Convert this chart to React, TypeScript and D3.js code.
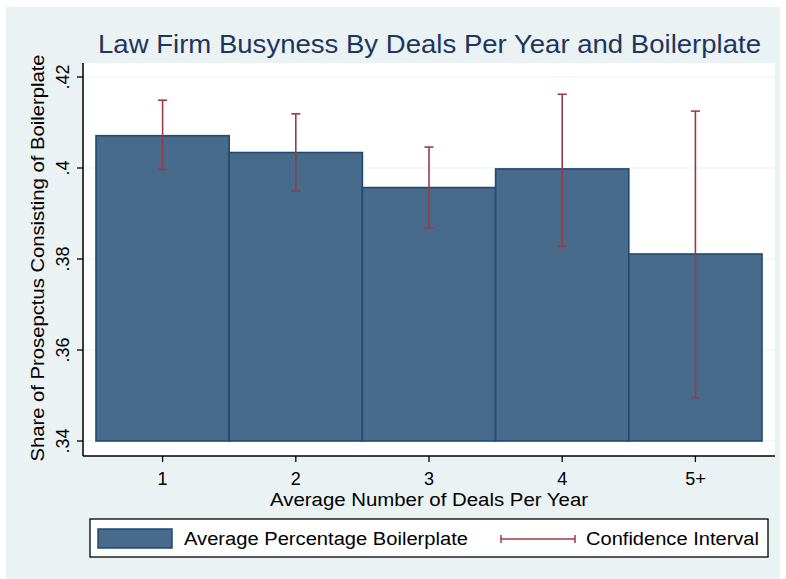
import React from "react";
import * as d3 from "d3";

// values
const categories = ["1", "2", "3", "4", "5+"];
const meanShare = [0.4071, 0.4034, 0.3957, 0.3998, 0.3811];
const ciLower = [0.3997, 0.3949, 0.3868, 0.3828, 0.3495];
const ciUpper = [0.4149, 0.4119, 0.4046, 0.4162, 0.4125];
const yTicks = [0.34, 0.36, 0.38, 0.4, 0.42];
const yTickLabels = [".34", ".36", ".38", ".4", ".42"];

const FONT = "'Liberation Sans', Arial, sans-serif";
const BG = "#eaf2f3";
const BAR_FILL = "#486a8b";
const BAR_LINE = "#1f4a72";
const CI_COLOR = "#9b3a45";

const App = () => {
  const width = 786,
    height = 579;
  const plot = { left: 84, right: 775, top: 63, bottom: 456 };

  const x = d3.scaleBand().domain(categories).range([96, 762]).padding(0);
  const y = d3.scaleLinear().domain([0.34, 0.42]).range([441, 77]);

  const rows = categories.map((c, i) => ({
    c,
    mean: meanShare[i],
    lo: ciLower[i],
    hi: ciUpper[i],
  }));

  const cap = 4.5;
  // Stata's text renders a bit wider than Liberation Sans, so stretch it
  const wide = { lengthAdjust: "spacingAndGlyphs" as const };

  return (
    <div style={{ position: "absolute", left: 0, top: 0 }}>
      <svg width={width} height={height} style={{ display: "block" }}>
        <rect x={0} y={0} width={width} height={height} fill="#ffffff" />
        <rect x={6} y={7} width={774} height={height} fill={BG} />
        <rect
          x={plot.left}
          y={plot.top}
          width={plot.right - plot.left}
          height={plot.bottom - plot.top}
          fill="#ffffff"
        />

        {/* title */}
        <text
          x={(plot.left + plot.right) / 2}
          y={53}
          textAnchor="middle"
          fontFamily={FONT}
          fontSize={25.5}
          fill="#1e3560"
          textLength={663}
          {...wide}
        >
          Law Firm Busyness By Deals Per Year and Boilerplate
        </text>

        {/* gridlines */}
        {yTicks.map((t) => (
          <line
            key={"g" + t}
            x1={plot.left}
            x2={plot.right}
            y1={y(t)}
            y2={y(t)}
            stroke={BG}
            strokeWidth={1.2}
          />
        ))}

        {/* bars */}
        {rows.map((d) => (
          <rect
            key={"b" + d.c}
            x={x(d.c)}
            y={y(d.mean)}
            width={x.bandwidth()}
            height={y(0.34) - y(d.mean)}
            fill={BAR_FILL}
            stroke={BAR_LINE}
            strokeWidth={1.6}
          />
        ))}

        {/* confidence intervals */}
        {rows.map((d) => {
          const cx = x(d.c) + x.bandwidth() / 2;
          return (
            <g key={"ci" + d.c} stroke={CI_COLOR} strokeWidth={1.6}>
              <line x1={cx} x2={cx} y1={y(d.hi)} y2={y(d.lo)} />
              <line x1={cx - cap} x2={cx + cap} y1={y(d.hi)} y2={y(d.hi)} />
              <line x1={cx - cap} x2={cx + cap} y1={y(d.lo)} y2={y(d.lo)} />
            </g>
          );
        })}

        {/* y axis */}
        <line x1={83} x2={83} y1={plot.top} y2={plot.bottom} stroke="#000" strokeWidth={1.5} />
        {yTicks.map((t, i) => (
          <g key={"yt" + t}>
            <line x1={77} x2={83} y1={y(t)} y2={y(t)} stroke="#000" strokeWidth={1.3} />
            <text
              transform={`translate(69,${y(t)}) rotate(-90)`}
              textAnchor="middle"
              fontFamily={FONT}
              fontSize={18}
              fill="#000"
            >
              {yTickLabels[i]}
            </text>
          </g>
        ))}
        <text
          transform={`translate(44,258) rotate(-90)`}
          textAnchor="middle"
          fontFamily={FONT}
          fontSize={17.5}
          fill="#000"
          textLength={407}
          {...wide}
        >
          Share of Prosepctus Consisting of Boilerplate
        </text>

        {/* x axis */}
        <line x1={83} x2={plot.right} y1={456} y2={456} stroke="#000" strokeWidth={1.5} />
        {categories.map((c) => {
          const cx = x(c) + x.bandwidth() / 2;
          return (
            <g key={"xt" + c}>
              <line x1={cx} x2={cx} y1={456} y2={462} stroke="#000" strokeWidth={1.3} />
              <text x={cx} y={485} textAnchor="middle" fontFamily={FONT} fontSize={18} fill="#000">
                {c}
              </text>
            </g>
          );
        })}
        <text
          x={429}
          y={505.5}
          textAnchor="middle"
          fontFamily={FONT}
          fontSize={18}
          fill="#000"
          textLength={318}
          {...wide}
        >
          Average Number of Deals Per Year
        </text>

        {/* legend */}
        <rect x={90} y={519} width={678} height={38} fill="#ffffff" stroke="#000" strokeWidth={1.3} />
        <rect x={98} y={529} width={74} height={19} fill={BAR_FILL} stroke={BAR_LINE} strokeWidth={1.5} />
        <text x={184} y={545} fontFamily={FONT} fontSize={18} fill="#000" textLength={284} {...wide}>
          Average Percentage Boilerplate
        </text>
        <g stroke={CI_COLOR} strokeWidth={1.5}>
          <line x1={501} x2={575} y1={539} y2={539} />
          <line x1={501} x2={501} y1={535} y2={543} />
          <line x1={575} x2={575} y1={535} y2={543} />
        </g>
        <text x={586} y={545} fontFamily={FONT} fontSize={18} fill="#000" textLength={173} {...wide}>
          Confidence Interval
        </text>
      </svg>
    </div>
  );
};

export default App;
